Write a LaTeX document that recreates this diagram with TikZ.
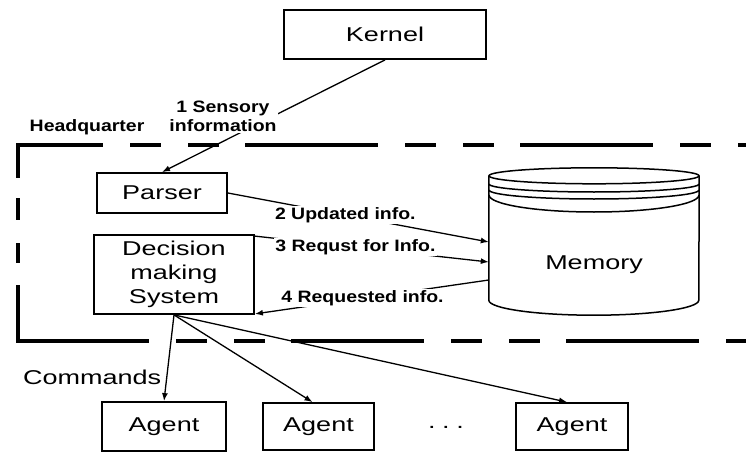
\documentclass[tikz,border=0pt]{standalone}
\usepackage{fontspec}
\setmainfont{Liberation Sans}
\newfontfamily\regf{Liberation Sans}[FakeStretch=1.35]
\newfontfamily\lblf{Liberation Sans}[FakeStretch=1.18]
\usetikzlibrary{arrows.meta}
\begin{document}
\begin{tikzpicture}[x=1pt,y=-1pt,
  box/.style={draw, line width=1.8pt, inner sep=0pt, font=\regf\fontsize{20}{24}\selectfont, align=center},
  reg/.style={font=\regf\fontsize{20}{24}\selectfont, inner sep=0pt},
  lbl/.style={font=\lblf\bfseries\fontsize{16.5}{19}\selectfont, align=center, inner sep=1.5pt},
  conn/.style={line width=1.3pt},
  arr/.style={conn, -{Latex[length=8pt,width=6pt]}},
  hqline/.style={line width=4pt},
  mline/.style={line width=1.5pt}
]
\useasboundingbox[fill=white] (0,0) rectangle (746,468);

% headquarter frame
\draw[hqline, dash pattern=on 133pt off 27pt on 31pt off 27pt on 31pt off 26pt, dash phase=46pt] (16,145) -- (770,145);
\draw[hqline, dash pattern=on 133pt off 27pt on 31pt off 27pt on 31pt off 26pt] (16,341) -- (770,341);
\draw[hqline, dash pattern=on 35pt off 20pt on 22pt off 23pt on 20pt off 22pt on 80pt] (18,143) -- (18,343);
\draw[hqline, dash pattern=on 35pt off 20pt on 22pt off 23pt on 20pt off 22pt on 80pt] (748,143) -- (748,343);
\node[lbl, anchor=west] (hq) at (28,127) {Headquarter};

% nodes
\node[box, minimum width=202pt, minimum height=49pt] (kernel) at (385,34.5) {Kernel};
\node[box, minimum width=130pt, minimum height=40pt] (parser) at (162,193) {Parser};
\node[box, minimum width=160pt, minimum height=79pt] (dms) at (174,274.5) {Decision\\making\\System};
\node[box, minimum width=124pt, minimum height=49pt] (ag1) at (164,426.5) {Agent};
\node[box, minimum width=111pt, minimum height=47pt] (ag2) at (318.5,426.5) {Agent};
\node[box, minimum width=112pt, minimum height=47pt] (ag3) at (572,426.5) {Agent};
\node[reg] (dots) at (446,427) {.\,\,.\,\,.};

% memory cylinder
\node[minimum width=210pt, minimum height=124pt, inner sep=0pt] (mem) at (594,238) {};
\draw[mline] (mem.north) ellipse[x radius=105pt, y radius=8pt];
\draw[mline] (489,184) arc[start angle=180, end angle=360, x radius=105pt, y radius=8pt];
\draw[mline] (489,190) arc[start angle=180, end angle=360, x radius=105pt, y radius=9pt];
\draw[mline] (489,195) arc[start angle=180, end angle=360, x radius=105pt, y radius=17pt];
\draw[mline] (mem.north west) -- (mem.south west) arc[start angle=180, end angle=360, x radius=105pt, y radius=15pt] -- (mem.north east);
\node[reg] (memlbl) at (594,265) {Memory};

% connectors
\draw[arr] (kernel.south) -- (parser.north);
\node[lbl, fill=white] (l1) at (223,116) {1 Sensory\\information};
\draw[arr] (parser.east) -- node[lbl, fill=white, pos=0.45] (l2) {2 Updated info.} ([yshift=-4pt]mem.west);
\draw[arr] ([yshift=-2pt]dms.north east) -- node[lbl, fill=white, pos=0.43] (l3) {3 Requst for Info.} ([yshift=-24pt]mem.west);
\draw[arr] ([yshift=-42pt]mem.west) -- node[lbl, fill=white, pos=0.54] (l4) {4 Requested info.} ([yshift=1pt]dms.south east);

\draw[arr] (dms.south) -- (ag1.north);
\draw[arr] (dms.south) -- ([xshift=-6pt]ag2.north);
\draw[arr] (dms.south) -- ([xshift=-5pt]ag3.north);
\node[reg, anchor=west] (cmd) at (23,377) {Commands};
\end{tikzpicture}
\end{document}
